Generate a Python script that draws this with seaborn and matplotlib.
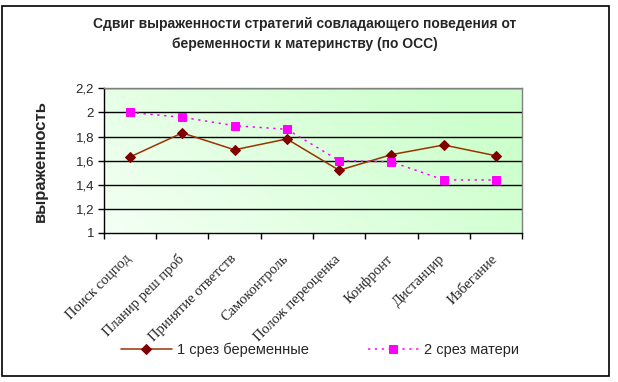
import numpy as np
import pandas as pd
import matplotlib
matplotlib.use('Agg')
import matplotlib.pyplot as plt
import seaborn as sns
from matplotlib.patches import Rectangle
from matplotlib.colors import LinearSegmentedColormap

sns.set_theme(style='white')
plt.rcParams['font.family'] = ['Liberation Sans', 'DejaVu Sans']

categories = ['Поиск соцпод', 'Планир реш проб', 'Принятие ответств', 'Самоконтроль',
              'Полож переоценка', 'Конфронт', 'Дистанцир', 'Избегание']
pregnant = [1.63, 1.83, 1.69, 1.78, 1.52, 1.65, 1.73, 1.64]
mothers = [2.0, 1.96, 1.89, 1.86, 1.60, 1.59, 1.44, 1.44]
yticks = [1, 1.2, 1.4, 1.6, 1.8, 2, 2.2]
ytick_labels = ['1', '1,2', '1,4', '1,6', '1,8', '2', '2,2']

W, H = 618, 382
fig = plt.figure(figsize=(W / 100, H / 100), dpi=100)
ax = fig.add_axes([103.7 / W, 1 - 233 / H, (522.3 - 103.7) / W, (233 - 88.3) / H])

# gradient background of the plot area
cmap = LinearSegmentedColormap.from_list('bg', ['#f4fff4', '#ccffcc'])
gx, gy = np.meshgrid(np.linspace(0, 1, 200), np.linspace(0, 1, 100))
grad = np.clip(0.8 * gx + 0.35 * gy, 0, 1)
ax.imshow(grad, cmap=cmap, extent=[-0.5, 7.5, 1, 2.2], origin='lower',
          aspect='auto', zorder=0, vmin=0, vmax=1)

x = np.arange(len(categories))
sns.lineplot(x=x, y=pregnant, ax=ax, color='#993300', lw=1.1, marker='D', markersize=5,
             markerfacecolor='#800000', markeredgecolor='#800000', label='1 срез беременные',
             zorder=3)
sns.lineplot(x=x, y=mothers, ax=ax, color='#ff00ff', lw=1.1, linestyle=(0, (1.5, 3)),
             marker='s', markersize=6, markerfacecolor='#ff00ff', markeredgecolor='#ff00ff',
             label='2 срез матери', zorder=3)

ax.set_xlim(-0.5, 7.5)
ax.set_ylim(1, 2.2)
ax.set_yticks(yticks)
ax.set_yticklabels(ytick_labels, fontsize=9.5)
for yv in yticks[1:]:
    ax.axhline(yv, color='black', lw=1, zorder=1)

ax.set_xticks(x - 0.1)
ax.set_xticklabels(categories, rotation=45, ha='right', rotation_mode='anchor',
                   fontsize=10.5, family='Liberation Serif')
ax.set_xticks(np.arange(-0.5, 8, 1), minor=True)
ax.tick_params(axis='x', which='major', length=0, pad=14)
ax.tick_params(axis='x', which='minor', length=4, width=1, color='black', direction='out')
ax.tick_params(axis='y', length=4, width=1, color='black', direction='out', pad=3)
ax.tick_params(bottom=True, left=True, which='both')

for side in ['left', 'bottom']:
    ax.spines[side].set_color('black')
    ax.spines[side].set_linewidth(1)
for side in ['top', 'right']:
    ax.spines[side].set_color('#808080')
    ax.spines[side].set_linewidth(1)

ax.set_ylabel('выраженность', fontsize=12, fontweight='bold', labelpad=20)
ax.set_xlabel('')

fig.text(305 / W, 1 - 34 / H, 'Сдвиг выраженности стратегий совладающего поведения от\n'
         'беременности к материнству (по ОСС)', ha='center', va='center',
         fontsize=10, fontweight='bold', linespacing=1.6)

handles, labels = ax.get_legend_handles_labels()
ax.get_legend().remove()
fig.legend(handles, labels, loc='center', bbox_to_anchor=(320 / W, 1 - 350 / H), ncol=2,
           frameon=False, fontsize=10.5, columnspacing=4, handlelength=3.5, handletextpad=0.4)

fig.patches.append(Rectangle((2 / W, 1 - 376 / H), 607 / W, 370 / H, transform=fig.transFigure,
                             fill=False, edgecolor='black', lw=1.2))

fig.savefig('out.png', dpi=100)
